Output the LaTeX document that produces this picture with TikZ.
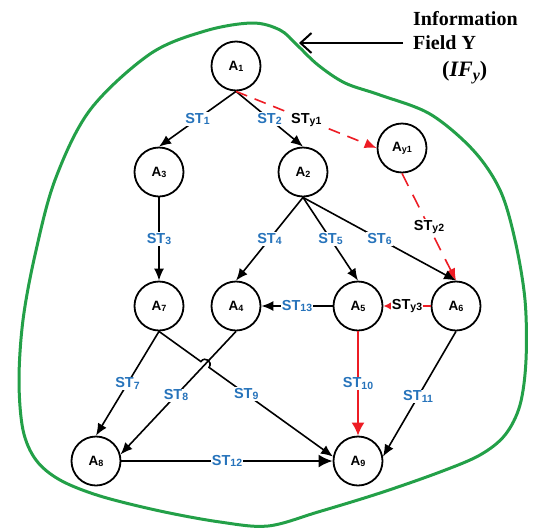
\documentclass[tikz,border=0pt]{standalone}
\usepackage{fontspec}
\setmainfont{Liberation Serif}
\setsansfont{Liberation Sans}
\usetikzlibrary{arrows.meta,calc,intersections}
\definecolor{stblue}{RGB}{38,115,187}
\definecolor{ared}{RGB}{237,28,36}
\definecolor{fgreen}{RGB}{35,160,72}
\newcommand\nsub[1]{\raisebox{-0.15ex}{\fontsize{9}{9}\selectfont #1}}
\newcommand\lsub[1]{\raisebox{-0.15ex}{\fontsize{10.5}{10.5}\selectfont #1}}
\begin{document}
\begin{tikzpicture}[x=1pt,y=-1pt,
  st/.style={circle,draw,line width=1.8pt,minimum size=49pt,inner sep=0pt,
    font=\sffamily\bfseries\fontsize{13.5}{13.5}\selectfont},
  edge/.style={line width=1.6pt,-{Latex[length=12pt,width=10pt]}},
  redge/.style={edge,draw=ared,color=ared},
  dedge/.style={redge,dash pattern=on 12pt off 8pt},
  lbl/.style={fill=white,inner sep=1pt,text=stblue,
    font=\sffamily\bfseries\fontsize{14.5}{14.5}\selectfont},
  ylbl/.style={lbl,text=black},
  title/.style={inner sep=0pt,anchor=base west,font=\bfseries\fontsize{20}{20}\selectfont}]
\useasboundingbox (0,0) rectangle (540,528);

% information field boundary
\draw[fgreen,line width=3pt] plot[smooth cycle,tension=0.55] coordinates {
 (252,23) (280,30) (297,45) (318,65) (345,83) (380,95) (430,114) (473,150)
 (500,190) (515,240) (525,300) (526,360) (520,405) (505,435) (480,455)
 (440,472) (380,493) (318,512) (268,526) (220,522) (160,511) (100,496)
 (60,480) (36,460) (23,430) (19,380) (23,320) (35,255) (55,180) (90,110)
 (150,54) (205,31)};

% title
\node[title] (t1) at (413,25) {Information};
\node[title] (t2) at (413,49) {Field Y};
\node[title,font=\bfseries\fontsize{22}{22}\selectfont] (t3) at (442,76) {(\textit{IF}\raisebox{-0.4ex}{\fontsize{16}{16}\selectfont\itshape y})};
\coordinate (arrS) at (403,43);
\coordinate (arrE) at (299,43);
\draw[line width=2pt,-{Straight Barb[length=11pt,width=20pt]}] (arrS) -- (arrE);

% states
\node[st] (A1) at (236,66) {A\nsub{1}};
\node[st] (A3) at (159,172) {A\nsub{3}};
\node[st] (A2) at (303,172) {A\nsub{2}};
\node[st] (Ay1) at (402,148) {A\nsub{y1}};
\node[st] (A7) at (159,306) {A\nsub{7}};
\node[st] (A4) at (236,306) {A\nsub{4}};
\node[st] (A5) at (358,306) {A\nsub{5}};
\node[st] (A6) at (456,306) {A\nsub{6}};
\node[st] (A8) at (96,461) {A\nsub{8}};
\node[st] (A9) at (358,461) {A\nsub{9}};

% transitions
\draw[edge] (A1.south) -- node[lbl] (l1) {ST\lsub{1}} (A3.north);
\draw[edge] (A1.south) -- node[lbl] (l2) {ST\lsub{2}} (A2.north);
\draw[dedge] (A1.south) -- node[ylbl] (ly1) {ST\lsub{y1}} (Ay1.west);
\draw[dedge,dash pattern=on 14pt off 10pt] (Ay1.south) -- node[ylbl] (ly2) {ST\lsub{y2}} (A6.north);
\draw[edge] (A3.south) -- node[lbl] (l3) {ST\lsub{3}} (A7.north);
\draw[edge] (A2.south) -- node[lbl] (l4) {ST\lsub{4}} (A4.north);
\draw[edge] (A2.south) -- node[lbl] (l5) {ST\lsub{5}} (A5.north);
\draw[edge] (A2.south) -- node[lbl] (l6) {ST\lsub{6}} (A6.north);
\draw[edge] (A5.west) -- node[lbl] (l13) {ST\lsub{13}} (A4.east);
\draw[redge,line width=1.5pt,-{Latex[length=8pt,width=8pt]}] (A6.west) -- node[ylbl] (ly3) {ST\lsub{y3}} (A5.east);
\draw[edge] (A7.south) -- node[lbl] (l7) {ST\lsub{7}} (A8.north);
\draw[edge] (A4.south) -- node[lbl,pos=0.52] (l8) {ST\lsub{8}} (A8.15);
\path[name path=p48] (A4.south) -- (A8.15);
\path[name path=p79] (A7.south) -- (A9.170);
\path[name intersections={of=p48 and p79,by=X}];
\coordinate (hs) at ($(X)!5pt!(A7.south)$);
\coordinate (he) at ($(X)!5pt!(A9.170)$);
\draw[edge] (A7.south) -- (hs) .. controls ($(hs)+(4.1,-5.7)$) and ($(he)+(4.1,-5.7)$) .. (he)
  -- node[lbl,pos=0.3] (l9) {ST\lsub{9}} (A9.170);
\draw[redge,line width=1.8pt,-{Latex[length=13pt,width=13pt]}] (A5.south) -- node[lbl] (l10) {ST\lsub{10}} (A9.north);
\draw[edge] (A6.south) -- node[lbl,pos=0.52] (l11) {ST\lsub{11}} (A9.10);
\draw[edge,line width=2.2pt,-{Latex[length=14pt,width=13pt]}] (A8.east) -- node[lbl] (l12) {ST\lsub{12}} (A9.west);
\end{tikzpicture}
\end{document}
